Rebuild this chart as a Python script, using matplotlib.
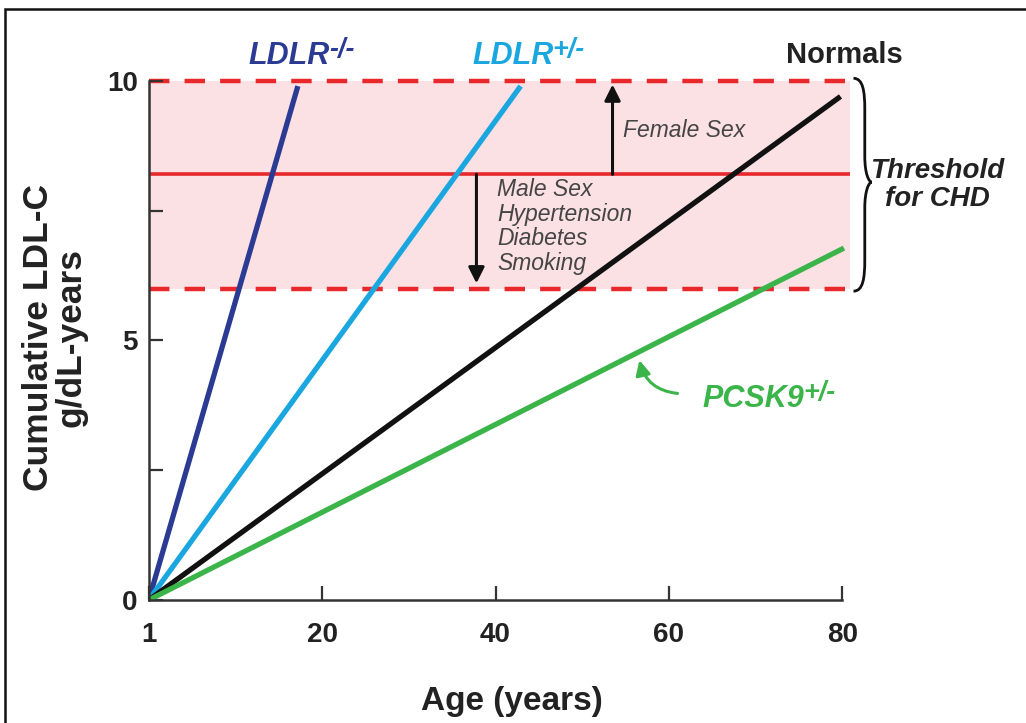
import matplotlib
matplotlib.use('Agg')
import matplotlib.pyplot as plt
from matplotlib.path import Path
from matplotlib.patches import PathPatch, Rectangle

plt.rcParams['font.family'] = ['Liberation Sans', 'DejaVu Sans']

# data
series_names = ['LDLR', 'LDLR', 'Normals', 'PCSK9']
series_sup = ['-/-', '+/-', '', '+/-']
start_age = [0, 0, 0, 0]
start_ldl = [0, 0, 0, 0]
end_age = [17.2, 42.9, 79.8, 80.2]
end_ldl = [9.9, 9.9, 9.7, 6.78]
colors = ['#2b3a93', '#1aa7e0', '#111111', '#3bb54a']

threshold = 8.2
band_low = 6.0
band_high = 10.0

x_ticks = [0, 20, 40, 60, 80]
x_tick_labels = ['1', '20', '40', '60', '80']
y_ticks = [0, 5, 10]
y_minor = [2.5, 7.5]
risk_down = ['Male Sex', 'Hypertension', 'Diabetes', 'Smoking']
risk_up = 'Female Sex'

red = '#e8282b'
gray_txt = '#454545'

fig = plt.figure(figsize=(10.26, 7.23), dpi=100)
ax = fig.add_axes([0.145, 0.1701, 0.6835, 0.718])

ax.axhspan(band_low, band_high, color='#fbe0e4', lw=0, zorder=0)
ax.axhline(band_high, color=red, lw=3.2, dashes=(4.6, 3.4), zorder=1, clip_on=False)
ax.axhline(band_low, color=red, lw=3.2, dashes=(4.6, 3.4), zorder=1)
ax.axhline(threshold, color=red, lw=2.6, zorder=1)

for i in range(len(end_age)):
    ax.plot([start_age[i], end_age[i]], [start_ldl[i], end_ldl[i]],
            color=colors[i], lw=3.8, solid_capstyle='butt', zorder=3)

ax.set_xlim(0, 80.9)
ax.set_ylim(0, 10)

for s in ['top', 'right']:
    ax.spines[s].set_visible(False)
for s in ['left', 'bottom']:
    ax.spines[s].set_linewidth(1.8)
    ax.spines[s].set_color('#333333')
    ax.spines[s].set_zorder(4)
ax.spines['bottom'].set_bounds(0, 80)

ax.set_xticks(x_ticks)
ax.set_xticklabels(x_tick_labels)
ax.set_yticks(y_ticks)
ax.set_yticks(y_minor, minor=True)
ax.tick_params(axis='both', which='both', direction='in', length=10, width=1.6,
               color='#333333', labelsize=20, labelcolor='#222222')
ax.tick_params(axis='x', pad=16)
ax.tick_params(axis='y', pad=8)
for lab in ax.get_xticklabels() + ax.get_yticklabels():
    lab.set_fontweight('bold')

ax.set_xlabel('Age (years)', fontsize=24, fontweight='bold', color='#222222')
ax.xaxis.set_label_coords(0.518, -0.165)
ax.set_ylabel('Cumulative LDL-C\ng/dL-years', fontsize=25.5, fontweight='bold',
              color='#222222', linespacing=1.0)
ax.yaxis.set_label_coords(-0.087, 0.505)

# series labels
def sup_label(x, y, main, sup, color, size):
    t = ax.text(x, y, main, color=color, fontsize=size, fontweight='bold',
                fontstyle='italic', va='baseline', ha='left', clip_on=False)
    if sup:
        ax.annotate(sup, xy=(0.99, 1.12), xycoords=t, color=color,
                    fontsize=size * 0.88, fontweight='bold', fontstyle='italic',
                    va='top', ha='left', annotation_clip=False)
    return t

sup_label(11.5, 10.33, series_names[0], series_sup[0], colors[0], 22)
sup_label(37.3, 10.33, series_names[1], series_sup[1], colors[1], 22)
ax.text(73.5, 10.35, series_names[2], color='#222222', fontsize=21,
        fontweight='bold', va='baseline', ha='left', clip_on=False)
pc = sup_label(63.9, 3.72, series_names[3], series_sup[3], colors[3], 22)

ax.annotate('', xy=(56.6, 4.62), xytext=(61.0, 3.98),
            arrowprops=dict(arrowstyle='-|>', color=colors[3], lw=2.2,
                            mutation_scale=22, shrinkA=0, shrinkB=0,
                            connectionstyle='arc3,rad=-0.35'))

# risk factor arrows
ax.annotate('', xy=(53.5, 9.93), xytext=(53.5, threshold),
            arrowprops=dict(arrowstyle='-|>', color='#111111', lw=2.2,
                            mutation_scale=24, shrinkA=0, shrinkB=0), zorder=3)
ax.annotate('', xy=(37.8, 6.1), xytext=(37.8, threshold),
            arrowprops=dict(arrowstyle='-|>', color='#111111', lw=2.2,
                            mutation_scale=24, shrinkA=0, shrinkB=0), zorder=3)
ax.text(54.7, 9.05, risk_up, fontsize=16.5, fontstyle='italic', color=gray_txt,
        va='center', ha='left')
ax.text(40.2, 8.12, '\n'.join(risk_down), fontsize=16.5, fontstyle='italic',
        color=gray_txt, va='top', ha='left', linespacing=1.08, zorder=2)

# brace for threshold
x0, x1, xt = 81.3, 82.6, 83.4
ytop, ymid, ybot = 10.05, 8.05, 5.95
verts = [(x0, ytop),
         (x1 - 0.2, ytop), (x1, ytop - 0.25), (x1, ytop - 0.6),
         (x1, ymid + 0.5),
         (x1, ymid + 0.15), (xt - 0.3, ymid), (xt, ymid),
         (xt - 0.3, ymid), (x1, ymid - 0.15), (x1, ymid - 0.5),
         (x1, ybot + 0.6),
         (x1, ybot + 0.25), (x1 - 0.2, ybot), (x0, ybot)]
codes = [Path.MOVETO,
         Path.CURVE4, Path.CURVE4, Path.CURVE4,
         Path.LINETO,
         Path.CURVE4, Path.CURVE4, Path.CURVE4,
         Path.CURVE4, Path.CURVE4, Path.CURVE4,
         Path.LINETO,
         Path.CURVE4, Path.CURVE4, Path.CURVE4]
ax.add_patch(PathPatch(Path(verts, codes), fill=False, lw=2.0,
                       color='#111111', clip_on=False))
ax.text(91.0, 8.0, 'Threshold\nfor CHD', fontsize=20, fontweight='bold',
        fontstyle='italic', color='#222222', ha='center', va='center',
        linespacing=1.1, clip_on=False)

# outer frame
fig.patches.append(Rectangle((0.005, -0.05), 1.2, 1.0376, transform=fig.transFigure,
                             fill=False, lw=1.8, color='#111111'))

fig.savefig('out.png', dpi=100)
